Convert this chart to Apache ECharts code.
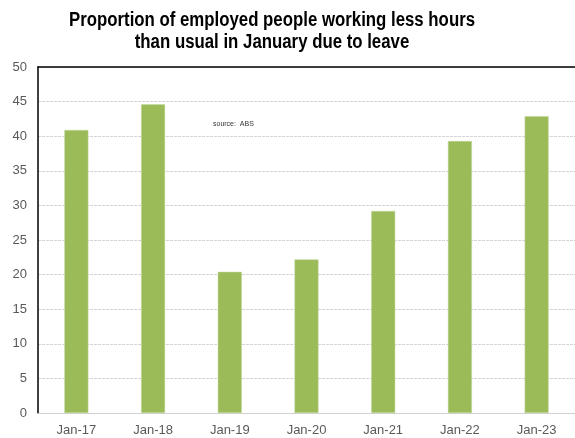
<!DOCTYPE html>
<html><head><meta charset="utf-8">
<script src="https://cdn.jsdelivr.net/npm/echarts@6/dist/echarts.min.js"></script>
<style>html,body{margin:0;padding:0;background:#fff}#c{width:575px;height:438px}</style>
</head><body><div id="c"></div>
<script>
var categories = ['Jan-17','Jan-18','Jan-19','Jan-20','Jan-21','Jan-22','Jan-23'];
var values = [40.9, 44.6, 20.4, 22.2, 29.2, 39.3, 42.9];
var titleText = 'Proportion of employed people working less hours\nthan usual in January due to leave';
var sourceText = 'source:  ABS';
var FONT = '"Liberation Sans", Arial, sans-serif';

var chart = echarts.init(document.getElementById('c'));
chart.setOption({
  animation: false,
  grid: {left: 38, right: -2, top: 67, bottom: 25, containLabel: false},
  xAxis: [{
    type: 'category', data: categories,
    axisLine: {lineStyle: {color: '#d0d0d0'}},
    axisTick: {show: false},
    axisLabel: {fontFamily: FONT, fontSize: 13, color: '#595959', margin: 11}
  }, {
    type: 'category', data: categories, position: 'top',
    axisLine: {lineStyle: {color: '#000', width: 1.5}},
    axisTick: {show: false}, axisLabel: {show: false}
  }],
  yAxis: {
    type: 'value', min: 0, max: 50, interval: 5,
    axisLine: {show: true, lineStyle: {color: '#000', width: 1.5}},
    axisTick: {show: false},
    splitLine: {lineStyle: {color: '#d4d4d4', type: [3, 1]}},
    axisLabel: {fontFamily: FONT, fontSize: 13, color: '#595959', margin: 11}
  },
  graphic: [{
    type: 'text', x: 272, y: 9, scaleX: 0.84, scaleY: 1,
    style: {text: titleText, textAlign: 'center', textVerticalAlign: 'top', fontFamily: FONT, fontSize: 20, fontWeight: 'bold', fill: '#000', lineHeight: 22.5}
  }, {
    type: 'text', left: 213, top: 121,
    style: {text: sourceText, fontFamily: FONT, fontSize: 7, fill: '#333'}
  }],
  series: [{
    type: 'bar', data: values, barWidth: 24, xAxisIndex: 0,
    itemStyle: {color: '#9BBB59', borderColor: '#c5d9a0', borderWidth: 0.5}
  }]
});
</script></body></html>
